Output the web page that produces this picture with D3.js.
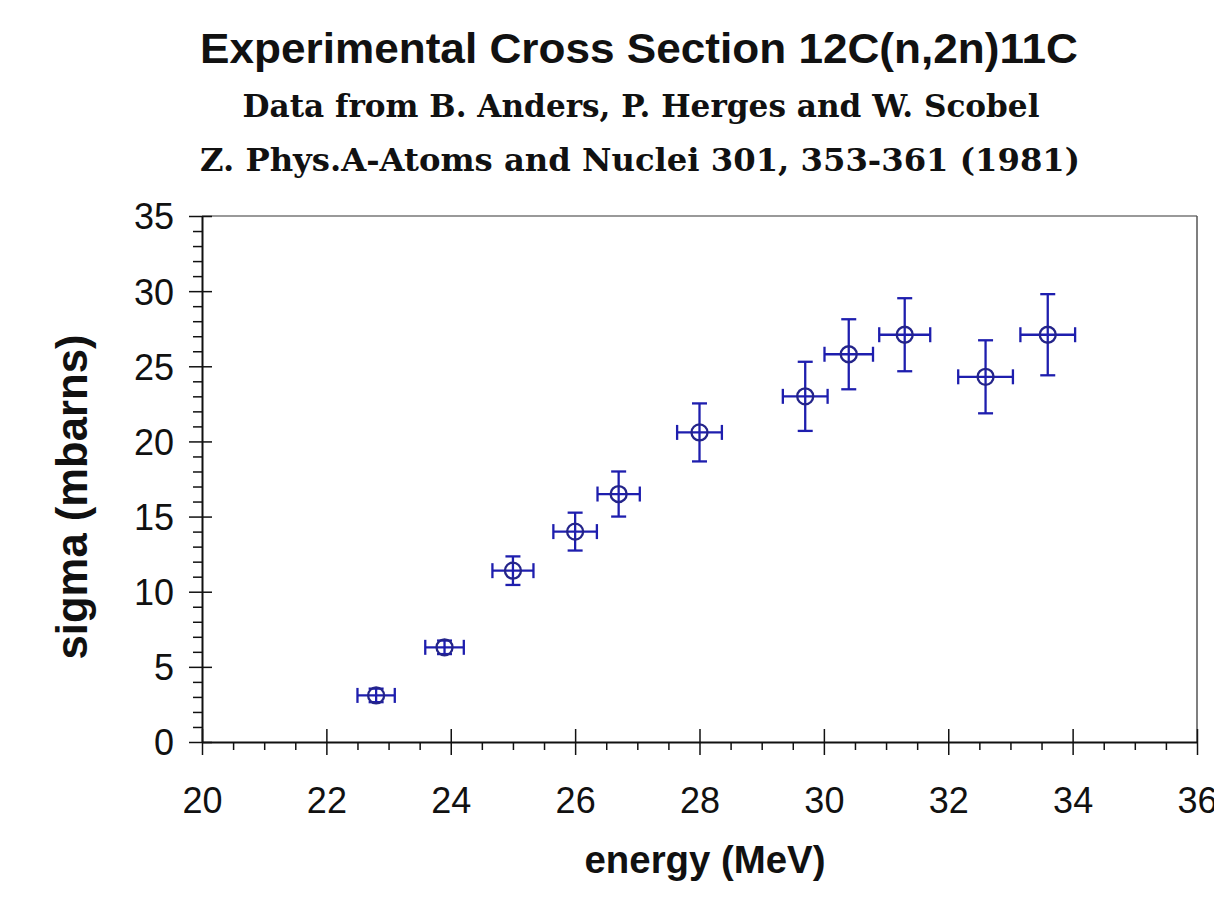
<!DOCTYPE html>
<html>
<head>
<meta charset="utf-8">
<script src="https://cdn.jsdelivr.net/npm/d3@7/dist/d3.min.js"></script>
<style>
  html, body { margin: 0; padding: 0; background: #fff; }
  svg { display: block; }
</style>
</head>
<body>
<svg id="chart" width="1214" height="920"></svg>
<script>
// ---- data ----
const energy = [22.8, 23.9, 25.0, 26.0, 26.7, 28.0, 29.7, 30.4, 31.3, 32.6, 33.6];
const sigma  = [3.1, 6.3, 11.4, 14.0, 16.5, 20.6, 23.0, 25.8, 27.1, 24.3, 27.1];
const dEnergy = [0.30, 0.31, 0.33, 0.35, 0.34, 0.36, 0.36, 0.39, 0.41, 0.44, 0.44];
const dSigma  = [0.45, 0.45, 0.95, 1.26, 1.50, 1.93, 2.30, 2.33, 2.43, 2.43, 2.70];

const xMajorTicks = [20, 22, 24, 26, 28, 30, 32, 34, 36];
const xMinorTicks = [20.5, 21, 21.5, 22.5, 23, 23.5, 24.5, 25, 25.5, 26.5, 27, 27.5,
                     28.5, 29, 29.5, 30.5, 31, 31.5, 32.5, 33, 33.5, 34.5, 35, 35.5];
const yMajorTicks = [0, 5, 10, 15, 20, 25, 30, 35];
const yMinorTicks = [1, 2, 3, 4, 6, 7, 8, 9, 11, 12, 13, 14, 16, 17, 18, 19,
                     21, 22, 23, 24, 26, 27, 28, 29, 31, 32, 33, 34];

const titleText = "Experimental Cross Section 12C(n,2n)11C";
const subtitle1 = "Data from B. Anders, P. Herges and W. Scobel";
const subtitle2 = "Z. Phys.A-Atoms and Nuclei 301, 353-361 (1981)";
const xLabel = "energy (MeV)";
const yLabel = "sigma (mbarns)";

// ---- layout ----
const svg = d3.select("#chart");
svg.append("rect").attr("width", 1214).attr("height", 920).attr("fill", "#fff");

const plotL = 202, plotR = 1197, plotT = 216, plotB = 742;
const x = d3.scaleLinear().domain([20, 36]).range([plotL, plotR]);
const y = d3.scaleLinear().domain([0, 35]).range([plotB, plotT]);

const sans = "'Liberation Sans', Arial, sans-serif";
const serif = "'DejaVu Serif', 'Liberation Serif', serif";
const markColor = "#1e1eae";

function fitText(sel, width) {
  const fs = parseFloat(sel.attr("font-size"));
  const w = sel.node().getComputedTextLength();
  if (w > 0) sel.attr("font-size", (fs * width / w).toFixed(2));
}

// frame (top & right)
svg.append("line").attr("x1", plotL).attr("x2", plotR).attr("y1", plotT).attr("y2", plotT)
  .attr("stroke", "#777").attr("stroke-width", 1.5);
svg.append("line").attr("x1", plotR).attr("x2", plotR).attr("y1", plotT).attr("y2", plotB)
  .attr("stroke", "#555").attr("stroke-width", 1.5);

// x axis minor
svg.append("g").attr("transform", `translate(0,${plotB})`)
  .call(d3.axisBottom(x).tickValues(xMinorTicks).tickSize(8).tickSizeOuter(0).tickFormat(""))
  .call(g => g.select(".domain").remove())
  .call(g => g.selectAll("line").attr("stroke", "#111").attr("stroke-width", 1.5));

// x axis major
const gx = svg.append("g").attr("transform", `translate(0,${plotB})`)
  .call(d3.axisBottom(x).tickValues(xMajorTicks).tickSize(13).tickSizeOuter(0).tickFormat(d3.format("d")));
gx.select(".domain").attr("stroke", "#111").attr("stroke-width", 2);
gx.selectAll(".tick line").attr("y1", -13).attr("y2", 13).attr("stroke", "#111").attr("stroke-width", 1.5);
gx.selectAll(".tick text").attr("y", 71).attr("dy", 0)
  .attr("font-family", sans).attr("font-size", 36).attr("fill", "#111");

// y axis minor
svg.append("g").attr("transform", `translate(${plotL},0)`)
  .call(d3.axisLeft(y).tickValues(yMinorTicks).tickSize(9).tickSizeOuter(0).tickFormat(""))
  .call(g => g.select(".domain").remove())
  .call(g => g.selectAll("line").attr("stroke", "#111").attr("stroke-width", 1.5));

// y axis major
const gy = svg.append("g").attr("transform", `translate(${plotL},0)`)
  .call(d3.axisLeft(y).tickValues(yMajorTicks).tickSize(13).tickSizeOuter(0).tickFormat(d3.format("d")));
gy.select(".domain").attr("stroke", "#111").attr("stroke-width", 2);
gy.selectAll(".tick line").attr("x1", -13).attr("x2", 10).attr("stroke", "#111").attr("stroke-width", 1.5);
gy.selectAll(".tick text").attr("x", -28).attr("dy", "0.36em")
  .attr("font-family", sans).attr("font-size", 36).attr("fill", "#111");

// ---- data marks ----
const data = energy.map((e, i) => ({ e, s: sigma[i], de: dEnergy[i], ds: dSigma[i] }));
const cap = 7.5;
const pts = svg.append("g").attr("stroke", markColor).attr("stroke-width", 2.3).attr("fill", "none");
const pg = pts.selectAll("g.pt").data(data).join("g").attr("class", "pt");
pg.append("line").attr("x1", d => x(d.e - d.de)).attr("x2", d => x(d.e + d.de))
  .attr("y1", d => y(d.s)).attr("y2", d => y(d.s));
pg.append("line").attr("x1", d => x(d.e - d.de)).attr("x2", d => x(d.e - d.de))
  .attr("y1", d => y(d.s) - cap).attr("y2", d => y(d.s) + cap);
pg.append("line").attr("x1", d => x(d.e + d.de)).attr("x2", d => x(d.e + d.de))
  .attr("y1", d => y(d.s) - cap).attr("y2", d => y(d.s) + cap);
pg.append("line").attr("x1", d => x(d.e)).attr("x2", d => x(d.e))
  .attr("y1", d => y(d.s - d.ds)).attr("y2", d => y(d.s + d.ds));
pg.append("line").attr("x1", d => x(d.e) - cap).attr("x2", d => x(d.e) + cap)
  .attr("y1", d => y(d.s - d.ds)).attr("y2", d => y(d.s - d.ds));
pg.append("line").attr("x1", d => x(d.e) - cap).attr("x2", d => x(d.e) + cap)
  .attr("y1", d => y(d.s + d.ds)).attr("y2", d => y(d.s + d.ds));
pg.append("circle").attr("cx", d => x(d.e)).attr("cy", d => y(d.s)).attr("r", 8)
  .attr("stroke", "#24248a");

// ---- titles ----
const t1 = svg.append("text").attr("x", 639).attr("y", 63).attr("text-anchor", "middle")
  .attr("font-family", sans).attr("font-weight", "bold").attr("font-size", 42).attr("fill", "#111")
  .attr("textLength", 878).attr("lengthAdjust", "spacingAndGlyphs")
  .text(titleText);

svg.append("text").attr("x", 641).attr("y", 117).attr("text-anchor", "middle")
  .attr("font-family", serif).attr("font-weight", "bold").attr("font-size", 32).attr("fill", "#111")
  .attr("textLength", 797).attr("lengthAdjust", "spacingAndGlyphs")
  .text(subtitle1);

svg.append("text").attr("x", 640).attr("y", 171).attr("text-anchor", "middle")
  .attr("font-family", serif).attr("font-weight", "bold").attr("font-size", 32).attr("fill", "#111")
  .attr("textLength", 880).attr("lengthAdjust", "spacingAndGlyphs")
  .text(subtitle2);

const xl = svg.append("text").attr("x", 705).attr("y", 873).attr("text-anchor", "middle")
  .attr("font-family", sans).attr("font-weight", "bold").attr("font-size", 34).attr("fill", "#111")
  .text(xLabel);
fitText(xl, 241);

const yl = svg.append("text").attr("transform", "translate(87,497) rotate(-90)").attr("text-anchor", "middle")
  .attr("font-family", sans).attr("font-weight", "bold").attr("font-size", 34).attr("fill", "#111")
  .text(yLabel);
fitText(yl, 325);
</script>
</body>
</html>
